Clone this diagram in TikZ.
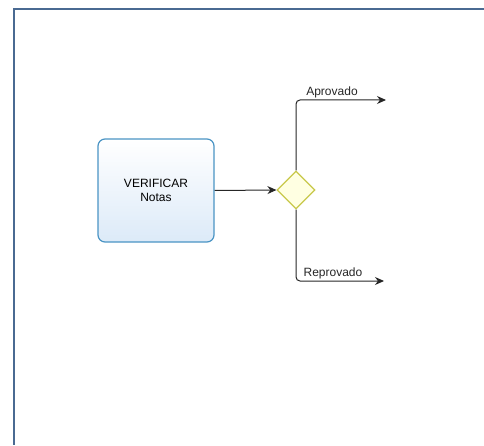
\documentclass[tikz,border=0pt]{standalone}
\usepackage{fontspec}
\setmainfont{Liberation Sans}
\usepackage{xcolor}
\usetikzlibrary{arrows.meta,positioning,calc,shapes.geometric}
\definecolor{framecol}{HTML}{4A6A92}
\definecolor{taskline}{HTML}{4A94C4}
\definecolor{taskfill}{HTML}{DCEAF8}
\definecolor{gateline}{HTML}{C8C84A}
\definecolor{gatefill}{HTML}{FFFFE2}

\begin{document}
\begin{tikzpicture}[x=1pt,y=1pt,font=\fontsize{12}{14}\selectfont,
  task/.style={draw=taskline,line width=1.2pt,rounded corners=7pt,
    top color=white,bottom color=taskfill,align=center,
    minimum width=116pt,minimum height=103pt,inner sep=0pt},
  gate/.style={diamond,draw=gateline,fill=gatefill,line width=1.2pt,
    minimum width=38pt,minimum height=38pt,inner sep=0pt},
  flow/.style={-{Stealth[length=9pt,width=8pt]},black!85,line width=1pt,rounded corners=4pt},
  lbl/.style={inner sep=2pt,font=\fontsize{12}{14}\selectfont}]
\useasboundingbox (0,0) rectangle (484,445);
% pool frame
\draw[framecol,line width=2pt] (484,436) -- (14,436) -- (14,0);

\node[task] (check) at (156,254.5) {VERIFICAR\\Notas};
\node[gate] (gate) at (296,255) {};
\coordinate (ok) at (386,345);
\coordinate (fail) at (384,164);

\draw[flow] (check.east) -- (gate.west);
\draw[flow] (gate.north) |- (ok) node[lbl,above,pos=0.70] (okl) {Aprovado};
\draw[flow] (gate.south) |- (fail) node[lbl,above,pos=0.71] (faill) {Reprovado};
\end{tikzpicture}
\end{document}
